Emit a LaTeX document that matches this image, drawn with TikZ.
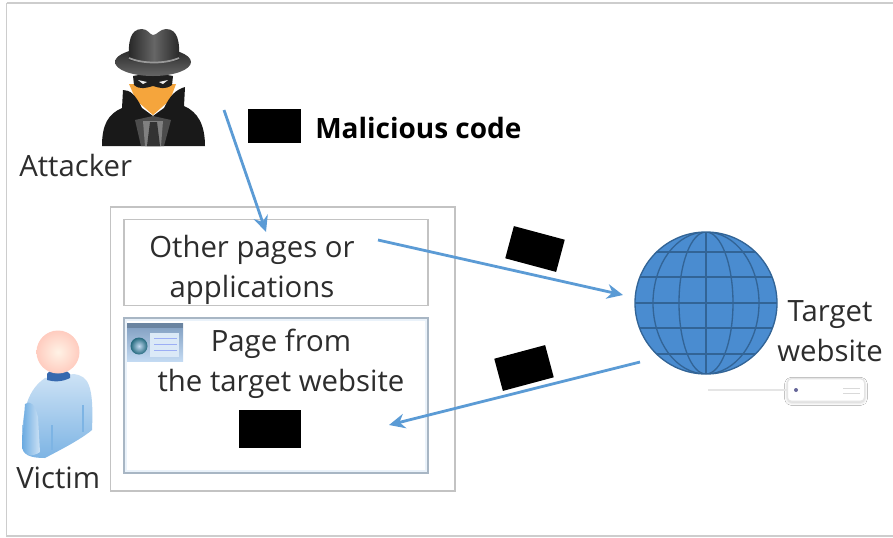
\documentclass[tikz,border=0pt]{standalone}
\usepackage{fontspec}
\setmainfont{Open Sans}
\usetikzlibrary{arrows.meta,shadows.blur}
\definecolor{arrowblue}{RGB}{91,155,213}
\definecolor{globeblue}{RGB}{74,140,208}
\definecolor{globeline}{RGB}{50,100,150}
\definecolor{framegray}{RGB}{205,205,205}
\definecolor{boxgray}{RGB}{195,195,195}
\definecolor{txt}{RGB}{45,45,45}
\definecolor{icontop}{RGB}{125,155,190}
\definecolor{iconbot}{RGB}{195,218,242}
\definecolor{skinorange}{RGB}{245,165,60}
\definecolor{bodytop}{RGB}{205,226,245}
\definecolor{bodybot}{RGB}{125,180,228}
\definecolor{sleeve}{RGB}{105,170,225}
\definecolor{collar}{RGB}{55,105,175}
\definecolor{earth}{RGB}{35,105,125}
\tikzset{
  px/.style={x=0.75pt,y=-0.75pt},
  frameline/.style={draw=framegray,line width=1pt},
  lbl/.style={font=\fontsize{22}{30}\selectfont,text=txt,align=center,inner sep=0pt},
  blk/.style={fill=black,draw=none,inner sep=0pt,minimum width=39.5pt,minimum height=25pt},
  flow/.style={draw=arrowblue,line width=2.1pt,-{Stealth[length=12pt,width=11pt]}},
  gridln/.style={draw=globeline,line width=1pt},
}
\begin{document}
\begin{tikzpicture}[px]
\useasboundingbox (0,0) rectangle (893,537);
\fill[white] (0,0) rectangle (893,537);
\draw[frameline] (6.5,3) -- (893,3) (6.5,3) -- (6.5,536) -- (893,536);
% boxes
\draw[draw=boxgray,line width=0.8pt] (110.5,207) rectangle (455,491);
\node[draw=boxgray,line width=0.8pt,minimum width=228pt,minimum height=64pt,inner sep=0pt] (other) at (276,262.5) {};
\fill[iconbot!35] (124,318) rectangle (428,473);
\fill[white] (127,321) rectangle (425,470);
\draw[draw=iconbot!60!gray,line width=0.9pt] (124,318) rectangle (428,473);
\node[draw=none,minimum width=228pt,minimum height=116pt,inner sep=0pt] (page) at (276,395.5) {};
% browser icon
\shade[top color=icontop,bottom color=iconbot] (127,323) rectangle (183,361);
\fill[icontop!85!black] (127,323) rectangle (183,328);
\fill[iconbot!60!white] (150,333) rectangle (179,357);
\draw[iconbot!80!blue,line width=0.7pt] (154,338)--(177,338) (154,344)--(177,344) (154,350)--(177,350);
\shade[inner color=iconbot,outer color=earth] (139,346) circle (8.5);
% labels
\node[lbl] (otherlbl) at (252,270) {Other pages or\\applications};
\node[lbl] (pagelbl) at (281,364) {Page from\\the target website};
\node[lbl,anchor=west] (attlbl) at (19,165) {Attacker};
\node[lbl,anchor=west] (viclbl) at (16,478) {Victim};
\node[lbl] (tgtlbl) at (830,331) {Target\\website};
\node[lbl,anchor=west,text=black,font=\fontsize{21}{29}\selectfont\bfseries] (mal) at (315,128) {Malicious code};
% black blocks
\node[blk] (b1) at (274.5,126) {};
\node[blk,rotate=-15] (b2) at (535,249) {};
\node[blk,rotate=15] (b3) at (524,368) {};
\node[blk,minimum width=46.5pt,minimum height=28.5pt] (b4) at (270,429) {};
% attacker
\node[inner sep=0pt,minimum size=1pt] (attacker) at (153,90) {};
\fill[skinorange] (129,84) -- (176,84) -- (170,100) -- (153,115) -- (136,100) -- cycle;
\fill[black!90] (102,146) .. controls (102,125) and (108,114) .. (122,108) -- (123,90) .. controls (130,90) and (135,94) .. (142,108) -- (153,116) -- (164,108) .. controls (170,96) and (175,90) .. (185,87) -- (184,106) .. controls (198,112) and (205,125) .. (205,146) -- cycle;
\fill[black!70] (135,120) -- (153,116) -- (171,120) -- (164,146) -- (141,146) -- cycle;
\fill[black!50] (143,121) -- (163,121) -- (161,146) -- (145,146) -- cycle;
\fill[black!80] (150,122) -- (157,122) -- (160,146) -- (147,146) -- cycle;
\fill[black!88] (133,76) .. controls (140,74) and (166,74) .. (173,76) -- (172,85) .. controls (165,90) and (160,88) .. (153,86) .. controls (146,88) and (140,90) .. (134,85) -- cycle;
\fill[white!85!gray] (138,80) -- (147,82) -- (143,84) -- cycle (168,80) -- (159,82) -- (163,84) -- cycle;
\shade[top color=black!85,bottom color=black!60] (153,62) ellipse (38 and 14);
\shade[left color=black!85,right color=black!85,middle color=black!60] (129,60) .. controls (128,42) and (130,29) .. (142,29) .. controls (148,29) and (150,35) .. (153,35) .. controls (157,35) and (160,29) .. (166,29) .. controls (178,29) and (180,42) .. (179,60) .. controls (165,64) and (143,64) .. (129,60) -- cycle;
\draw[black!40,line width=1.3pt] (129,58) .. controls (143,64) and (165,64) .. (179,58);
% victim
\node[inner sep=0pt,minimum size=1pt] (victim) at (58,400) {};
\shade[top color=bodytop,bottom color=bodybot] (45,378) -- (74,374) .. controls (88,376) and (94,384) .. (92,430) .. controls (80,440) and (60,450) .. (45,458) .. controls (30,458) and (22,455) .. (22,445) .. controls (22,420) and (24,392) .. (45,378) -- cycle;
\shade[left color=sleeve,right color=bodytop] (25,404) .. controls (30,400) and (35,404) .. (38,417) -- (40,452) .. controls (32,458) and (22,455) .. (22,445) -- cycle;
\draw[bodybot,line width=0.8pt] (52,425)--(52,450) (83,405)--(83,432);
\fill[collar] (47,374) .. controls (50,368) and (66,368) .. (70,374) -- (70,378) .. controls (62,382) and (54,382) .. (47,380) -- cycle;
\shade[inner color=white!90!orange,outer color=orange!40!red!25] (58,352) circle (21.5);
% globe
\node[circle,fill=globeblue,draw=globeline,line width=1pt,minimum size=106.5pt,inner sep=0pt] (globe) at (706,303) {};
\begin{scope}
\clip (706,303) circle (71);
\draw[gridln] (630,252)--(780,252) (630,277)--(780,277) (630,303)--(780,303) (630,328)--(780,328) (630,354)--(780,354);
\draw[gridln] (706,232)--(706,374);
\draw[gridln] (706,303) ellipse (27 and 71);
\draw[gridln] (706,303) ellipse (53 and 71);
\end{scope}
% server
\coordinate (srvl) at (708,390);
\node[draw=gray!20,fill=white,rounded corners=3pt,line width=1pt,minimum width=58pt,minimum height=17pt,inner sep=0pt,blur shadow={shadow xshift=0pt,shadow yshift=-1pt,shadow blur radius=2pt,shadow opacity=20}] (server) at (826,390) {};
\draw[gray!20,line width=1pt] (srvl) -- (server);
\fill[gray!80!blue] (796,390) circle (2);
\draw[gray!30,line width=0.7pt] (843,388)--(860,388) (843,393)--(860,393);
% connectors
\coordinate (a1s) at (224,110);
\coordinate (a1e) at (266,232);
\coordinate (a2s) at (378,240);
\coordinate (a2e) at (623,295);
\coordinate (a3s) at (640,362);
\coordinate (a3e) at (389,425);
\draw[flow] (a1s) -- (a1e);
\draw[flow] (a2s) -- (a2e);
\draw[flow] (a3s) -- (a3e);
\end{tikzpicture}
\end{document}
